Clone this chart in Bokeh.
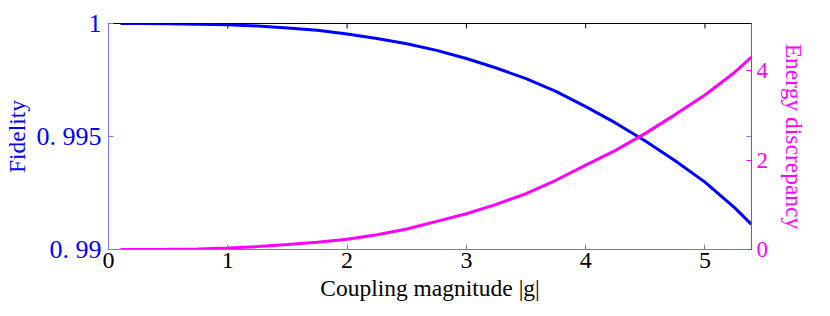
import math
from bokeh.plotting import figure
from bokeh.models import Range1d, LinearAxis, FixedTicker
from bokeh.embed import file_html
from bokeh.resources import INLINE

# data
coupling = [0.1, 0.25, 0.5, 0.75, 1.0, 1.25, 1.5, 1.75, 2.0, 2.25, 2.5, 2.75,
            3.0, 3.25, 3.5, 3.75, 4.0, 4.25, 4.5, 4.75, 5.0, 5.25, 5.39]
fidelity = [1.0, 0.999999, 0.999993, 0.99997, 0.99994, 0.99989, 0.99980,
            0.99970, 0.99954, 0.99934, 0.99910, 0.99881, 0.99845, 0.99803,
            0.99756, 0.99700, 0.99632, 0.99560, 0.99480, 0.99393, 0.99298,
            0.99184, 0.99111]
energy = [0.0, 0.0005, 0.004, 0.013, 0.035, 0.065, 0.11, 0.16, 0.23, 0.33,
          0.46, 0.63, 0.80, 1.01, 1.25, 1.55, 1.89, 2.22, 2.60, 3.02, 3.46,
          3.97, 4.31]

x_ticks = [0, 1, 2, 3, 4, 5]
fid_ticks = [0.99, 0.995, 1.0]
fid_tick_labels = ["0. 99", "0. 995", "1"]
energy_ticks = [0, 2, 4]

FONT = "Liberation Serif"
BLUE = "#0000ff"
MAGENTA = "#ff00ff"
X_MAX = 5.39
FID_MIN, FID_MAX = 0.99, 1.0

p = figure(width=814, height=308, output_backend="svg", toolbar_location=None,
           x_range=Range1d(0, X_MAX), y_range=Range1d(FID_MIN, FID_MAX),
           min_border_left=107, min_border_right=63, min_border_top=23,
           min_border_bottom=59, outline_line_color="black",
           outline_line_width=1)
p.xgrid.visible = False
p.ygrid.visible = False
p.extra_y_ranges = {"energy": Range1d(0, 5.06)}

p.line(coupling, fidelity, line_color=BLUE, line_width=3)
p.line(coupling, energy, line_color=MAGENTA, line_width=3, y_range_name="energy")

# mirrored box ticks (top x ticks, right fidelity tick)
p.ray(x=x_ticks, y=[FID_MAX] * len(x_ticks), length=5, length_units="screen",
      angle=-math.pi / 2, line_color="black", line_width=1)
p.ray(x=[X_MAX], y=[0.995], length=5, length_units="screen",
      angle=math.pi, line_color="#7777ff", line_width=1)

# bottom axis
xa = p.xaxis[0]
xa.ticker = FixedTicker(ticks=x_ticks)
xa.minor_tick_line_color = None
xa.major_tick_in = 5
xa.major_tick_out = 0
xa.axis_line_color = "#808080"
xa.major_tick_line_color = "#808080"
xa.major_label_text_font = FONT
xa.major_label_text_font_size = "24px"
xa.major_label_text_color = "black"
xa.major_label_standoff = 3
xa.axis_label = "Coupling magnitude |g|"
xa.axis_label_text_font = FONT
xa.axis_label_text_font_size = "23.5px"
xa.axis_label_text_font_style = "normal"
xa.axis_label_text_color = "black"
xa.axis_label_standoff = 4

# left axis
ya = p.yaxis[0]
ya.ticker = FixedTicker(ticks=fid_ticks)
ya.major_label_overrides = {t: l for t, l in zip(fid_ticks, fid_tick_labels)}
ya.minor_tick_line_color = None
ya.major_tick_in = 5
ya.major_tick_out = 0
ya.axis_line_color = "#7777ff"
ya.major_tick_line_color = "#7777ff"
ya.major_label_text_font = FONT
ya.major_label_text_font_size = "26px"
ya.major_label_text_color = BLUE
ya.major_label_standoff = 7
ya.axis_label = "Fidelity"
ya.axis_label_text_font = FONT
ya.axis_label_text_font_size = "23.5px"
ya.axis_label_text_font_style = "normal"
ya.axis_label_text_color = BLUE
ya.axis_label_standoff = 4

# right axis
ra = LinearAxis(y_range_name="energy", ticker=FixedTicker(ticks=energy_ticks),
                major_tick_in=5, major_tick_out=0, minor_tick_line_color=None,
                axis_line_color=MAGENTA, major_tick_line_color=MAGENTA,
                major_label_text_font=FONT, major_label_text_font_size="23px",
                major_label_text_color=MAGENTA, major_label_standoff=5,
                axis_label="Energy discrepancy", axis_label_text_font=FONT,
                axis_label_text_font_size="23.5px", axis_label_text_font_style="normal",
                axis_label_text_color=MAGENTA, axis_label_standoff=10)
p.add_layout(ra, "right")

open("out.html", "w").write(file_html(p, INLINE))
